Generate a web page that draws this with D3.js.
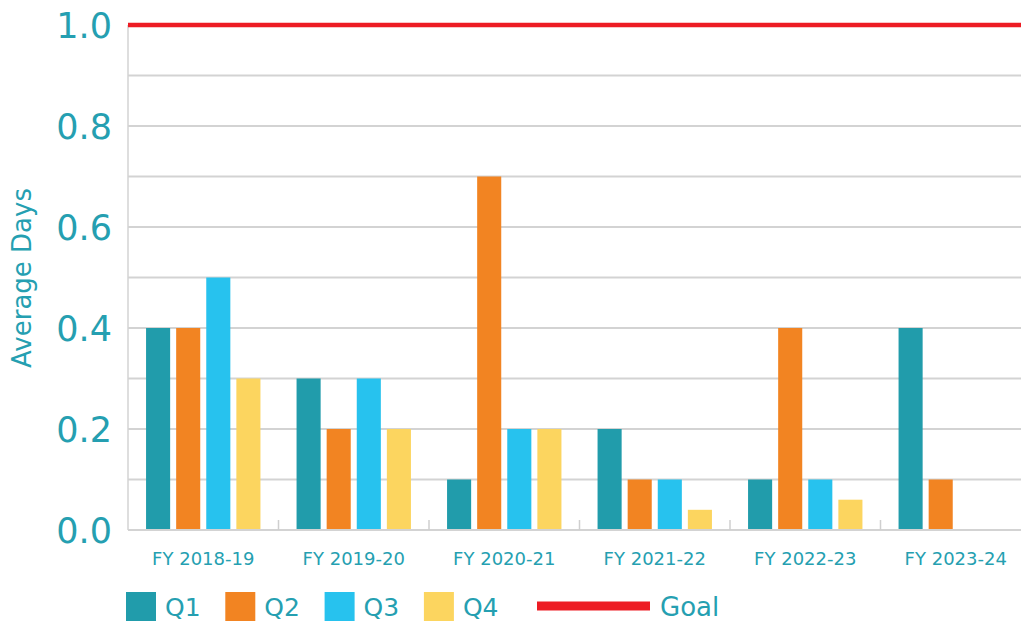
<!DOCTYPE html>
<html>
<head>
<meta charset="utf-8">
<script src="https://cdnjs.cloudflare.com/ajax/libs/d3/7.8.5/d3.min.js"></script>
<style>
  body { margin: 0; background: #fff; }
  .chart text { font-family: "DejaVu Sans", Lato, sans-serif; fill: #259fb1; }
</style>
</head>
<body>
<div class="chart"></div>
<script>
// chart data
var years = ["FY 2018-19", "FY 2019-20", "FY 2020-21", "FY 2021-22", "FY 2022-23", "FY 2023-24"];
var quarters = ["Q1", "Q2", "Q3", "Q4"];
var q1 = [0.4, 0.3, 0.1, 0.2, 0.1, 0.4];
var q2 = [0.4, 0.2, 0.7, 0.1, 0.4, 0.1];
var q3 = [0.5, 0.3, 0.2, 0.1, 0.1, null];
var q4 = [0.3, 0.2, 0.2, 0.04, 0.06, null];
var goal = 1.0;
var yTicks = [0, 0.1, 0.2, 0.3, 0.4, 0.5, 0.6, 0.7, 0.8, 0.9, 1.0];
var yLabels = [0, 0.2, 0.4, 0.6, 0.8, 1.0];

var colors = ["#219cab", "#f28422", "#27c2ee", "#fcd55f"];
var goalColor = "#ed1c24";

var svgWidth = 1021;
var svgHeight = 621;

var margin = { top: 25, right: -10, bottom: 91, left: 128 };
var width = svgWidth - margin.left - margin.right;
var height = svgHeight - margin.top - margin.bottom;

var svg = d3.select(".chart")
  .append("svg")
  .attr("width", svgWidth)
  .attr("height", svgHeight);

var chartGroup = svg.append("g")
  .attr("transform", `translate(${margin.left}, ${margin.top})`);

// build rows from the series
var series = [q1, q2, q3, q4];
var rows = years.map(function (y, i) {
  return { year: y, values: quarters.map((q, j) => ({ q: q, v: series[j][i], c: colors[j] })) };
});

// scales
var x0 = d3.scaleBand().domain(years).range([0, width]).padding(0);
var x1 = d3.scaleBand().domain(quarters).range([0, x0.bandwidth()])
  .paddingInner(0.2).paddingOuter(0.6);
var yScale = d3.scaleLinear().domain([0, 1]).range([height, 0]);

// gridlines
chartGroup.selectAll(".grid")
  .data(yTicks.filter(d => d > 0 && d < 1))
  .enter()
  .append("line")
  .attr("x1", 0)
  .attr("x2", svgWidth)
  .attr("y1", d => yScale(d))
  .attr("y2", d => yScale(d))
  .attr("stroke", "#d3d3d3")
  .attr("stroke-width", 2);

// left axis line
chartGroup.append("line")
  .attr("x1", 0).attr("x2", 0)
  .attr("y1", yScale(1)).attr("y2", yScale(0))
  .attr("stroke", "#d3d3d3")
  .attr("stroke-width", 1.5);

// y labels
var leftAxis = d3.axisLeft(yScale)
  .tickValues(yLabels)
  .tickFormat(d3.format(".1f"))
  .tickSize(0)
  .tickPadding(16);

var yAxisG = chartGroup.append("g").call(leftAxis);
yAxisG.select(".domain").remove();
yAxisG.selectAll("text")
  .style("font-size", "35px")
  .attr("dy", "0.36em");

// bars
var groups = chartGroup.selectAll(".year")
  .data(rows)
  .enter()
  .append("g")
  .attr("transform", d => `translate(${x0(d.year)},0)`);

groups.selectAll("rect")
  .data(d => d.values.filter(v => v.v != null))
  .enter()
  .append("rect")
  .attr("x", d => x1(d.q))
  .attr("width", x1.bandwidth())
  .attr("y", d => yScale(d.v))
  .attr("height", d => yScale(0) - yScale(d.v))
  .attr("fill", d => d.c);

// baseline and category ticks
chartGroup.append("line")
  .attr("x1", 0).attr("x2", svgWidth)
  .attr("y1", yScale(0)).attr("y2", yScale(0))
  .attr("stroke", "#d3d3d3")
  .attr("stroke-width", 2);

chartGroup.selectAll(".ctick")
  .data(years.slice(1))
  .enter()
  .append("line")
  .attr("x1", d => x0(d)).attr("x2", d => x0(d))
  .attr("y1", yScale(0)).attr("y2", yScale(0) - 10)
  .attr("stroke", "#cfcfcf")
  .attr("stroke-width", 1.5);

// goal line
chartGroup.append("line")
  .attr("x1", 0).attr("x2", svgWidth)
  .attr("y1", yScale(goal)).attr("y2", yScale(goal))
  .attr("stroke", goalColor)
  .attr("stroke-width", 4.5);

// x labels
chartGroup.selectAll(".xlabel")
  .data(years)
  .enter()
  .append("text")
  .attr("x", d => x0(d) + x0.bandwidth() / 2)
  .attr("y", height + 35)
  .attr("text-anchor", "middle")
  .style("font-size", "18px")
  .text(d => d);

// y axis title
svg.append("text")
  .attr("transform", "rotate(-90)")
  .attr("x", -278)
  .attr("y", 31)
  .attr("text-anchor", "middle")
  .style("font-size", "26px")
  .text("Average Days");

// legend
var legend = svg.append("g");
var legendItems = legend.selectAll(".item")
  .data(quarters)
  .enter()
  .append("g")
  .attr("transform", (d, i) => `translate(${126 + i * 99.3}, 592)`);

legendItems.append("rect")
  .attr("width", 30)
  .attr("height", 30)
  .attr("fill", (d, i) => colors[i]);

legendItems.append("text")
  .attr("x", 39)
  .attr("y", 24)
  .style("font-size", "25px")
  .text(d => d);

legend.append("line")
  .attr("x1", 537).attr("x2", 650)
  .attr("y1", 606).attr("y2", 606)
  .attr("stroke", goalColor)
  .attr("stroke-width", 9);

legend.append("text")
  .attr("x", 660)
  .attr("y", 616)
  .style("font-size", "26px")
  .text("Goal");
</script>
</body>
</html>
